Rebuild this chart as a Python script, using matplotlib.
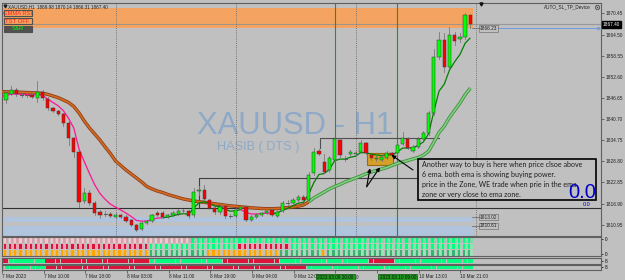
import matplotlib
matplotlib.use("Agg")
import matplotlib.pyplot as plt
import matplotlib.patheffects as pe
from matplotlib.patches import Rectangle, FancyArrowPatch

# ---------------- data (XAUUSD H1, 7-10 Mar 2023) ----------------
open_ = [1846.6, 1846.1, 1847.8, 1848.9, 1847.5, 1847.4, 1847.5, 1846.6, 1848.3, 1846.4,
         1843.8, 1843.0, 1842.1, 1839.6, 1835.4, 1831.4, 1817.6, 1819.9, 1817.1, 1814.5,
         1814.05, 1814.0, 1813.1, 1813.7, 1813.2, 1812.3, 1810.9, 1809.7, 1811.4, 1811.9,
         1814.2, 1814.3, 1813.1, 1813.7, 1814.1, 1814.9, 1814.8, 1813.6, 1820.4, 1820.7,
         1817.9, 1815.7, 1814.5, 1816.2, 1813.45, 1813.3, 1815.4, 1815.9, 1812.3, 1813.0,
         1813.7, 1814.2, 1815.0, 1813.4, 1814.7, 1817.1, 1817.1, 1817.9, 1818.8, 1817.9,
         1825.4, 1831.7, 1828.7, 1826.3, 1829.2, 1834.8, 1829.5, 1830.9, 1830.9, 1831.4,
         1833.9, 1830.6, 1829.5, 1829.2, 1829.7, 1831.1, 1831.1, 1833.7, 1835.1, 1831.7,
         1832.8, 1835.1, 1836.7, 1842.3, 1858.3, 1863.0, 1855.5, 1864.4, 1863.2, 1863.9,
         1869.98]
high = [1847.2, 1848.6, 1850.0, 1849.5, 1848.1, 1848.0, 1848.0, 1851.5, 1849.0, 1846.8,
        1844.1, 1843.3, 1842.4, 1840.4, 1835.6, 1831.7, 1821.3, 1820.7, 1817.6, 1815.1,
        1814.8, 1814.5, 1814.2, 1814.1, 1813.7, 1812.6, 1811.2, 1811.8, 1812.3, 1814.0,
        1814.8, 1814.7, 1814.0, 1814.8, 1815.4, 1815.5, 1815.2, 1821.3, 1821.8, 1822.1,
        1818.3, 1816.0, 1816.5, 1816.8, 1814.0, 1815.7, 1816.4, 1816.2, 1813.6, 1814.3,
        1814.6, 1815.4, 1815.5, 1815.0, 1817.7, 1817.8, 1818.5, 1819.4, 1819.3, 1825.8,
        1832.6, 1832.3, 1830.9, 1830.3, 1835.4, 1835.3, 1830.3, 1832.0, 1831.7, 1834.8,
        1834.3, 1831.0, 1830.3, 1830.5, 1831.6, 1831.5, 1833.9, 1837.1, 1835.7, 1833.3,
        1835.6, 1837.3, 1842.9, 1860.4, 1865.3, 1864.9, 1866.7, 1865.3, 1865.0, 1870.5,
        1870.14]
low = [1845.5, 1845.2, 1847.5, 1847.2, 1846.9, 1846.9, 1846.5, 1845.5, 1846.1, 1843.3,
       1842.7, 1841.8, 1838.8, 1833.4, 1830.0, 1816.0, 1817.1, 1816.5, 1813.7, 1812.8,
       1813.4, 1813.1, 1812.8, 1812.8, 1811.7, 1810.5, 1809.2, 1809.4, 1811.2, 1811.6,
       1813.4, 1812.8, 1812.8, 1813.4, 1813.8, 1814.3, 1812.7, 1813.2, 1819.3, 1817.9,
       1815.4, 1814.1, 1814.1, 1812.8, 1812.8, 1813.0, 1815.1, 1811.9, 1811.9, 1812.7,
       1813.4, 1813.9, 1813.3, 1813.1, 1814.4, 1816.5, 1816.8, 1817.6, 1817.6, 1817.6,
       1825.0, 1830.6, 1825.5, 1825.9, 1828.9, 1830.0, 1828.8, 1830.3, 1830.6, 1831.1,
       1830.8, 1829.2, 1829.0, 1828.9, 1829.4, 1830.3, 1830.8, 1833.4, 1832.3, 1831.3,
       1832.5, 1834.8, 1836.2, 1841.9, 1857.5, 1854.1, 1855.0, 1861.6, 1862.5, 1863.4,
       1866.31]
close = [1845.8, 1848.1, 1849.0, 1847.8, 1847.4, 1847.5, 1846.9, 1848.3, 1846.6, 1843.8,
         1843.0, 1842.1, 1839.6, 1835.4, 1831.4, 1817.3, 1819.9, 1817.1, 1814.3, 1813.7,
         1813.95, 1813.4, 1813.7, 1813.1, 1812.0, 1810.9, 1809.5, 1811.4, 1812.0, 1813.7,
         1813.7, 1813.1, 1813.7, 1814.2, 1814.9, 1814.7, 1813.5, 1820.2, 1820.6, 1818.2,
         1815.7, 1814.4, 1815.9, 1813.3, 1813.35, 1815.2, 1815.9, 1812.3, 1813.1, 1813.8,
         1814.2, 1814.8, 1813.7, 1814.6, 1817.1, 1817.0, 1817.9, 1818.8, 1817.9, 1825.0,
         1831.5, 1830.9, 1825.9, 1829.7, 1835.0, 1830.6, 1829.4, 1831.4, 1831.2, 1833.9,
         1831.1, 1829.7, 1829.7, 1830.0, 1831.1, 1830.6, 1833.4, 1835.4, 1832.6, 1832.8,
         1835.1, 1836.8, 1842.3, 1858.3, 1863.0, 1855.5, 1864.4, 1862.8, 1863.9, 1870.0,
         1867.40]
ema_fast = [1847.06, 1847.35, 1847.77, 1847.77, 1847.63, 1847.63, 1847.49, 1847.63, 1847.35, 1846.33,
            1845.37, 1844.44, 1843.06, 1840.87, 1838.16, 1832.22, 1828.70, 1825.37, 1822.19, 1819.77,
            1818.11, 1816.75, 1815.88, 1815.09, 1814.22, 1813.26, 1812.16, 1811.96, 1811.96, 1812.44,
            1812.81, 1812.89, 1813.12, 1813.43, 1813.85, 1814.05, 1813.88, 1815.68, 1817.09, 1817.40,
            1816.89, 1816.19, 1816.11, 1815.29, 1814.75, 1814.89, 1815.20, 1814.36, 1813.99, 1813.96,
            1814.05, 1814.27, 1814.11, 1814.25, 1815.03, 1815.60, 1816.27, 1817.01, 1817.26, 1819.46,
            1822.81, 1825.12, 1825.35, 1826.58, 1828.98, 1829.43, 1829.43, 1829.94, 1830.25, 1831.29,
            1831.23, 1830.81, 1830.58, 1830.42, 1830.64, 1830.61, 1831.40, 1832.53, 1832.56, 1832.61,
            1833.29, 1834.27, 1836.58, 1842.78, 1848.56, 1850.53, 1854.50, 1856.87, 1858.87, 1862.05,
            1863.60]
ema_slow = [1848.41, 1848.39, 1848.33, 1848.30, 1848.25, 1848.19, 1848.11, 1848.05, 1847.96, 1847.68,
            1847.20, 1846.73, 1846.08, 1845.37, 1844.25, 1842.42, 1840.16, 1838.19, 1836.50, 1834.81,
            1832.84, 1831.01, 1828.89, 1827.63, 1826.36, 1825.23, 1824.11, 1822.98, 1821.71, 1821.01,
            1820.44, 1820.02, 1819.46, 1819.04, 1818.61, 1818.19, 1817.91, 1817.63, 1817.43, 1817.26,
            1817.06, 1816.84, 1816.64, 1816.44, 1816.27, 1816.13, 1815.99, 1815.85, 1815.71, 1815.60,
            1815.51, 1815.46, 1815.46, 1815.51, 1815.60, 1815.77, 1815.94, 1816.16, 1816.50, 1817.35,
            1818.47, 1819.32, 1820.16, 1821.01, 1821.71, 1822.27, 1822.98, 1823.54, 1824.11, 1824.67,
            1825.29, 1825.80, 1826.22, 1826.64, 1827.06, 1827.63, 1828.19, 1828.61, 1829.03, 1829.46,
            1829.88, 1830.53, 1831.65, 1834.19, 1836.92, 1838.70, 1841.15, 1843.20, 1845.18, 1847.54,
            1849.43]
fast_state = "P" * 32 + "G" * 15 + "P" * 6 + "G" * 38
slow_state = "B" * 60 + "G" * 31
# indicator rows (G = up, R = down, O = neutral, P = pale)
row_a = "P" * 37 + "G" * 54
row_b = "R" * 29 + "G" * 17 + "R" * 10 + "G" * 35
row_c = "O" * 29 + "G" * 11 + "O" * 14 + "G" * 8 + "O" + "G" * 28
row_2 = "RR" + "G" * 7 + "R" * 20 + "G" * 14 + "R" * 11 + "G" * 17 + "R" * 5 + "G" * 15
row_3 = "G" * 9 + "R" * 50 + "G" * 32

price_ticks = [1810.95, 1816.90, 1822.85, 1828.80, 1834.75, 1840.70,
               1846.65, 1852.60, 1858.55, 1864.50, 1870.45]
time_ticks = [0, 8, 16, 24, 32, 40, 48, 56, 64, 72, 80, 88]
time_labels = ["7 Mar 2023", "7 Mar 10:00", "7 Mar 18:00", "8 Mar 03:00", "8 Mar 11:00",
               "8 Mar 19:00", "9 Mar 04:00", "9 Mar 12:00", "", "",
               "10 Mar 13:00", "10 Mar 21:00"]
day_breaks = [22, 45, 68, 91]
event_bars = [64, 76]
event_labels = ["2023.03.09 20:00", "2023.03.10 09:00"]
bid = 1867.40
level_blue = 1866.23
zone_res = (1866.23, 1872.10)
zone_sup1 = (1811.70, 1813.02)
zone_sup2 = (1807.00, 1810.61)
hline_level = 1815.66
box_top = 1824.11
box_bars = (38, 80)
box2_top = 1835.46
box2_bars = (61.2, 84)
entry_zone = (70.1, 75.1, 1827.77, 1831.06)

# ---------------- layout ----------------
W, H = 625, 280
BG = "#c0c0c0"
FONT = "Liberation Sans"
plt.rcParams["font.family"] = [FONT, "DejaVu Sans"]
fig = plt.figure(figsize=(W / 100, H / 100), dpi=100, facecolor=BG)

def frac(x0, y0, x1, y1):
    return [x0 / W, 1 - y1 / H, (x1 - x0) / W, (y1 - y0) / H]

PXB, PX0 = 5.217, 0.8          # pixels per bar, pixel of bar 0
XL = ((2 - PX0) / PXB, (601 - PX0) / PXB)
YL = (1874.246 - 236 / 3.55, 1874.246 - 3 / 3.55)
n = len(close)
xs = list(range(n))

ax = fig.add_axes(frac(2, 3, 601, 236))
ax1 = fig.add_axes(frac(2, 237, 601, 256))
ax2 = fig.add_axes(frac(2, 258, 601, 263.7))
ax3 = fig.add_axes(frac(2, 265, 601, 269.5))
for a in (ax, ax1, ax2, ax3):
    a.set_facecolor(BG)
    a.set_xlim(*XL)
    for s in a.spines.values():
        s.set_color("#606060")
        s.set_linewidth(0.8)
    a.tick_params(left=False, labelleft=False, bottom=False, labelbottom=False)
ax.set_ylim(*YL)

# zones
xfrac_end = (n - 0.5 - XL[0]) / (XL[1] - XL[0])
ax.axhspan(*zone_res, xmin=0, xmax=xfrac_end, color="#f4a460", zorder=1, lw=0)
for z in (zone_sup1, zone_sup2):
    ax.axhspan(*z, xmin=0, xmax=xfrac_end, color="#b0c4de", zorder=1, lw=0)
ax.axhline(bid, color="#909090", lw=0.8, alpha=0.8, zorder=2)
ax.plot([n + 4.3, XL[1] - 0.3], [level_blue, level_blue], color="#6495ed", lw=0.6, zorder=2)
ax.plot([XL[1] - 0.5], [level_blue], marker="o", ms=2, mfc="none", mec="#6495ed", mew=0.5, zorder=3)

# separators / events
for d in day_breaks:
    ax.axvline(d, color="#777777", lw=0.7, ls=(0, (1, 1.2)), zorder=2)
for e in event_bars:
    ax.axvline(e, color="#2e8b2e", lw=0.8, zorder=2)

# watermark
ax.text(37.6, 1836.6, "XAUUSD - H1", fontsize=22.3, color="#8ea9c8", ha="left", va="baseline", zorder=1.5)
ax.text(41.4, 1832.0, "HASIB ( DTS )", fontsize=9.2, color="#8ea9c8", ha="left", va="baseline", zorder=1.5)

# lines / boxes drawn on chart
ax.axhline(hline_level, color="#303030", lw=0.8, zorder=2)
ax.plot([box_bars[0], box_bars[0], box_bars[1]], [hline_level, box_top, box_top], color="#404040", lw=0.8, zorder=2)
ax.plot([box2_bars[0], box2_bars[0], box2_bars[1]], [box2_top - 3, box2_top, box2_top], color="#505050", lw=0.8, zorder=2)
x0z, x1z, y0z, y1z = entry_zone
ax.add_patch(Rectangle((x0z, y0z), x1z - x0z, y1z - y0z, fc="#d4a02a", ec="#9a6a10", lw=0.8, zorder=2.5))

# moving averages, drawn as runs of equal colour
def runs(state):
    out, start = [], 1
    for i in range(2, len(state) + 1):
        if i == len(state) or state[i] != state[start]:
            out.append((start - 1, i - 1, state[start]))
            start = i
    return out

def draw_ma(vals, state, cmap, lw, outline=None):
    for a0, a1, s in runs(state):
        eff = None
        if outline:
            eff = [pe.Stroke(linewidth=lw + 1.1, foreground=outline[s]), pe.Normal()]
        ax.plot(xs[a0:a1 + 1], vals[a0:a1 + 1], color=cmap[s], lw=lw, solid_capstyle="butt",
                solid_joinstyle="round", zorder=3, path_effects=eff)

draw_ma(ema_slow, slow_state, {"B": "#d2691e", "G": "#7ccd7c"}, 1.3,
        outline={"B": "#8b3a1a", "G": "#3c8c3c"})
draw_ma(ema_fast, fast_state, {"P": "#ff1493", "G": "#008000"}, 0.9)

# candles
BW = 0.62
for i in xs:
    o, h, l, c = open_[i], high[i], low[i], close[i]
    ax.plot([i, i], [l, h], color="#7a7a7a", lw=0.6, zorder=4)
    up = c >= o
    lo, hi = min(o, c), max(o, c)
    if hi - lo < 0.15:
        ax.plot([i - BW / 2, i + BW / 2], [c, c], color="#5a5a5a", lw=0.7, zorder=5)
    else:
        ax.add_patch(Rectangle((i - BW / 2, lo), BW, hi - lo, fc="#00ff00" if up else "#ff0000",
                               ec="#3a3a3a", lw=0.35, zorder=5))

# price axis
ax.yaxis.tick_right()
ax.set_yticks(price_ticks, [f"{p:.2f}" for p in price_ticks])
ax.tick_params(axis="y", right=True, labelright=True, length=2, width=0.5, color="#404040",
               labelsize=3.4, pad=1.5, labelcolor="#202020")
ax.text(1.003, (bid - YL[0]) / (YL[1] - YL[0]), f"{bid:.2f}", transform=ax.transAxes, fontsize=3.4,
        color="white", va="center", ha="left",
        bbox=dict(boxstyle="square,pad=0.15", fc="black", ec="black"))

# price tags for levels
for lv in (level_blue, zone_sup1[1], zone_sup2[1]):
    ax.text(n + 0.8, lv, f"{lv:.2f}", fontsize=3.4, color="#202020", va="center", ha="left", zorder=6,
            bbox=dict(boxstyle="square,pad=0.12", fc=BG, ec="#606060", lw=0.4))
    ax.plot([n - 0.6, n + 0.8], [lv, lv], color="#606060", lw=0.5, zorder=6)

# indicator panel 1
cols_a = {"P": ("#f0c8d0", "#d8a0a8"), "G": ("#00ff7f", "#7fd8a8")}
cols_b = {"R": ("#dc143c", "#f0a0b0"), "G": ("#00ff7f", "#90e0b0")}
cols_c = {"O": ("#ffa500", "#e0c080"), "G": ("#3cb371", "#9fe0b8")}
ax1.set_ylim(0, 3)
for row, st, cm in ((2, row_a, cols_a), (1, row_b, cols_b), (0, row_c, cols_c)):
    for i in xs:
        c1, c2 = cm[st[i]]
        ax1.add_patch(Rectangle((i - 0.45, row + 0.05), 0.42, 0.9, fc=c1, lw=0))
        ax1.add_patch(Rectangle((i + 0.0, row + 0.05), 0.42, 0.9, fc=c2, lw=0))
ax1.yaxis.tick_right()
ax1.set_yticks([0.3, 2.7], ["0", "0"])
ax1.tick_params(axis="y", right=True, labelright=True, length=1.5, width=0.5, labelsize=3.4, pad=1)

# indicator panels 2, 3
for a, st in ((ax2, row_2), (ax3, row_3)):
    a.set_ylim(0, 1)
    for i in xs:
        a.add_patch(Rectangle((i - 0.5, 0.05), 0.92, 0.9, fc="#00ff7f" if st[i] == "G" else "#dc143c",
                              ec="none", lw=0))
    a.yaxis.tick_right()
    a.set_yticks([0.5], ["8"])
    a.tick_params(axis="y", right=True, labelright=True, length=1.5, width=0.5, labelsize=3.4, pad=1)

# time axis
ax3.set_xticks(time_ticks, time_labels)
ax3.tick_params(axis="x", bottom=True, labelbottom=True, length=2, width=0.5, labelsize=3.4,
                pad=1.5, labelcolor="#202020", color="#404040")
for t in ax3.get_xticklabels():
    t.set_ha("left")
for e, lab in zip(event_bars, event_labels):
    ax3.annotate(lab, xy=(e, 0), xycoords=("data", "axes fraction"), xytext=(0, -5.6),
                 textcoords="offset points", fontsize=3.4, ha="center", va="center", color="#101010",
                 bbox=dict(boxstyle="square,pad=0.25", fc="#1f9a1f", ec="#0a5a0a", lw=0.5),
                 annotation_clip=False)
ax3.annotate("0", xy=(event_bars[0] + 4.0, 0), xycoords=("data", "axes fraction"), xytext=(0, -5.6),
             textcoords="offset points", fontsize=3.4, ha="left", va="center", color="#202020",
             annotation_clip=False)

# overlay in pixel coordinates for screen objects
ov = fig.add_axes([0, 0, 1, 1], zorder=10)
ov.set_xlim(0, W)
ov.set_ylim(H, 0)
ov.axis("off")
ov.patch.set_alpha(0)
ov.text(8, 6.3, "XAUUSD,H1  1869.98 1870.14 1866.31 1867.40", fontsize=3.3, color="#202020", va="center")
ov.plot([4.5], [6], marker="v", ms=2, color="#202020")
for (y0, lab, tc, fc) in ((10, "GMMA RSI", "#ff2020", "none"), (18, "TST OFF", "#ff2020", "none"),
                          (25.5, "S&R", "#00ff00", "#505050")):
    ov.add_patch(Rectangle((3.5, y0), 28, 6, fc=fc, ec="#505050", lw=0.8))
    ov.text(17.5, y0 + 3.1, lab, fontsize=4.2, color=tc, ha="center", va="center")
ov.text(591, 7, "AUTO_SL_TP_Device", fontsize=3.3, color="#202020", ha="right", va="center")
ov.plot([596.5], [7], marker="o", ms=3.2, mfc="none", mec="#404040", mew=0.5)
ov.plot([596.5], [7], marker="x", ms=1.4, color="#404040", mew=0.4)
ov.plot([481], [3.5], marker="v", ms=2.2, color="#101010")

# annotation box
ov.add_patch(Rectangle((418, 159), 178, 41, fc=BG, ec="black", lw=1.2))
lines = ["Another way to buy is here when price clsoe above",
         "6 ema. both ema is showing buying power.",
         "price in the Zone, WE trade when prie in the ema",
         "zone or very close to ema zone."]
for k, s in enumerate(lines):
    ov.text(421.5, 165 + k * 9.7, s, fontsize=5.15, color="#202020", va="center", ha="left", family="Lato")
ov.text(582, 192.5, "0.0", fontsize=14.5, color="#0000cd", ha="center", va="center")
ov.text(587, 204, "0.0", fontsize=4.0, color="#0000cd", ha="center", va="center")
for (x0a, y0a, x1a, y1a) in ((413, 170, 391.5, 155), (366.7, 186.7, 370, 168.3), (366.7, 186.7, 380, 167.3)):
    ov.add_patch(FancyArrowPatch((x0a, y0a), (x1a, y1a), arrowstyle="-|>,head_length=2.2,head_width=1.1",
                                 color="black", lw=0.8, mutation_scale=1, shrinkA=0, shrinkB=0))

fig.savefig("out.png", dpi=100, facecolor=BG)
